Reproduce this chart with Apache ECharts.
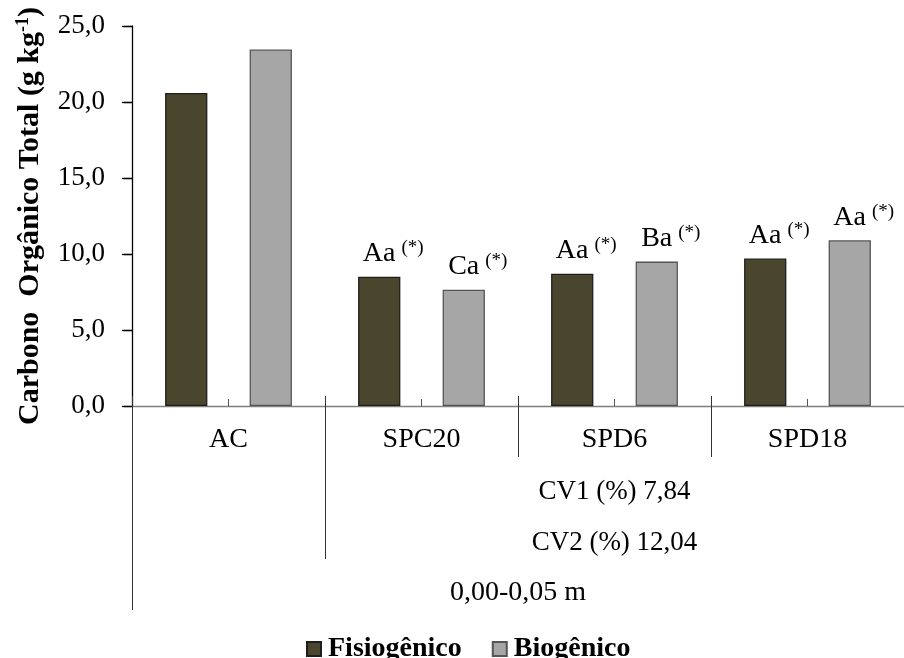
<!DOCTYPE html>
<html>
<head>
<meta charset="utf-8">
<script src="https://cdn.jsdelivr.net/npm/echarts@6/dist/echarts.min.js"></script>
<style>
html,body{margin:0;padding:0;background:#fff;}
#c{width:904px;height:658px;}
</style>
</head>
<body>
<div id="c"></div>
<script>
// ---- data ----
const categories = ['AC', 'SPC20', 'SPD6', 'SPD18'];
const fisiogenico = [20.6, 8.5, 8.7, 9.7];
const biogenico = [23.45, 7.65, 9.5, 10.9];
const fisioLetters = ['', 'Aa', 'Aa', 'Aa'];
const bioLetters = ['', 'Ca', 'Ba', 'Aa'];
const yTicks = [0, 5, 10, 15, 20, 25];
const cvText = ['CV1 (%) 7,84', 'CV2 (%) 12,04'];
const depthText = '0,00-0,05 m';
const seriesNames = ['Fisiogênico', 'Biogênico'];

const FONT = 'Liberation Serif';
const chart = echarts.init(document.getElementById('c'), null, {renderer: 'canvas'});

function letterLabel(letters) {
  return {
    show: true,
    position: 'top',
    distance: 8,
    offset: [14, 0],
    formatter: p => letters[p.dataIndex] ? letters[p.dataIndex] + '{s|(*)}' : '',
    fontFamily: FONT, fontSize: 28, color: '#000', lineHeight: 30,
    rich: {
      s: {fontFamily: FONT, fontSize: 19, color: '#000', verticalAlign: 'top', lineHeight: 30, padding: [0, 0, 10, 6]}
    }
  };
}

const gridLeft = 132, gridTop = 26, gridW = 785.6, gridH = 380;

const option = {
  animation: false,
  backgroundColor: '#fff',
  grid: {left: gridLeft, top: gridTop, width: gridW, height: gridH, containLabel: false},
  legend: {
    data: seriesNames,
    left: 301, top: 630,
    itemWidth: 14, itemHeight: 14, itemGap: 30,
    icon: 'rect',
    textStyle: {fontFamily: FONT, fontSize: 28, fontWeight: 'bold', color: '#000', padding: [0, 0, 0, 2]}
  },
  xAxis: [
    {
      type: 'category', data: categories, position: 'bottom',
      axisLine: {show: true, lineStyle: {color: '#7f7f7f', width: 1.3}},
      axisTick: {show: true, alignWithLabel: false, interval: 0, length: 51, lineStyle: {color: '#333', width: 1}},
      axisLabel: {show: true, interval: 0, margin: 19, fontFamily: FONT, fontSize: 28, color: '#000', lineHeight: 30},
      splitLine: {show: false}
    },
    {
      type: 'category', data: categories, position: 'bottom',
      axisLine: {show: false},
      axisTick: {show: true, inside: true, alignWithLabel: false, interval: 0, length: 10, lineStyle: {color: '#333', width: 1}},
      axisLabel: {show: false}, splitLine: {show: false}
    },
    {
      type: 'category', data: categories, position: 'bottom',
      axisLine: {show: false},
      axisTick: {show: true, inside: true, alignWithLabel: true, interval: 0, length: 7, lineStyle: {color: '#555', width: 1}},
      axisLabel: {show: false}, splitLine: {show: false}
    },
    {
      type: 'value', min: 0, max: 4, position: 'bottom',
      axisLine: {show: false},
      axisTick: {show: true, customValues: [1], length: 153, lineStyle: {color: '#333', width: 1}},
      axisLabel: {show: true, customValues: [2.5], margin: 60, formatter: () => cvText.join('\n'),
        fontFamily: FONT, fontSize: 27, color: '#000', lineHeight: 51},
      splitLine: {show: false}
    },
    {
      type: 'value', min: 0, max: 4, position: 'bottom',
      axisLine: {show: false},
      axisTick: {show: true, customValues: [0], length: 204, lineStyle: {color: '#333', width: 1}},
      axisLabel: {show: true, customValues: [2], margin: 172, formatter: () => depthText,
        fontFamily: FONT, fontSize: 28, color: '#000', lineHeight: 30},
      splitLine: {show: false}
    }
  ],
  yAxis: [
    {
      type: 'value', min: 0, max: 25, interval: 5,
      axisLine: {show: true, lineStyle: {color: '#000', width: 1.3}},
      axisTick: {show: true, length: 10, lineStyle: {color: '#000', width: 1.3}},
      axisLabel: {margin: 27, fontFamily: FONT, fontSize: 27, color: '#000',
        formatter: v => yTicks.includes(v) ? v.toFixed(1).replace('.', ',') : ''},
      splitLine: {show: false},
      name: 'Carbono  Orgânico Total (g kg{s|-1})',
      nameLocation: 'middle', nameGap: 86, nameRotate: 90,
      nameTextStyle: {fontFamily: FONT, fontSize: 30, fontWeight: 'bold', color: '#000', lineHeight: 32,
        rich: {s: {fontFamily: FONT, fontSize: 18, fontWeight: 'bold', color: '#000', verticalAlign: 'top', lineHeight: 32, padding: [0, 0, 12, 0]}}}
    },
    {
      type: 'value', min: 0, max: 25, interval: 5,
      axisLine: {show: false},
      axisTick: {show: true, inside: true, length: 8, lineStyle: {color: '#000', width: 1.3}},
      axisLabel: {show: false}, splitLine: {show: false}
    }
  ],
  series: [
    {
      name: seriesNames[0], type: 'bar', data: fisiogenico,
      xAxisIndex: 0, yAxisIndex: 0,
      barWidth: '21.9%', barGap: '100%',
      itemStyle: {color: '#4a452d', borderColor: '#1e1e1e', borderWidth: 1.3},
      label: letterLabel(fisioLetters)
    },
    {
      name: seriesNames[1], type: 'bar', data: biogenico,
      xAxisIndex: 0, yAxisIndex: 0,
      barWidth: '21.9%', barGap: '100%',
      itemStyle: {color: '#a6a6a6', borderColor: '#555', borderWidth: 1.3},
      label: letterLabel(bioLetters)
    }
  ]
};
chart.setOption(option);
</script>
</body>
</html>
